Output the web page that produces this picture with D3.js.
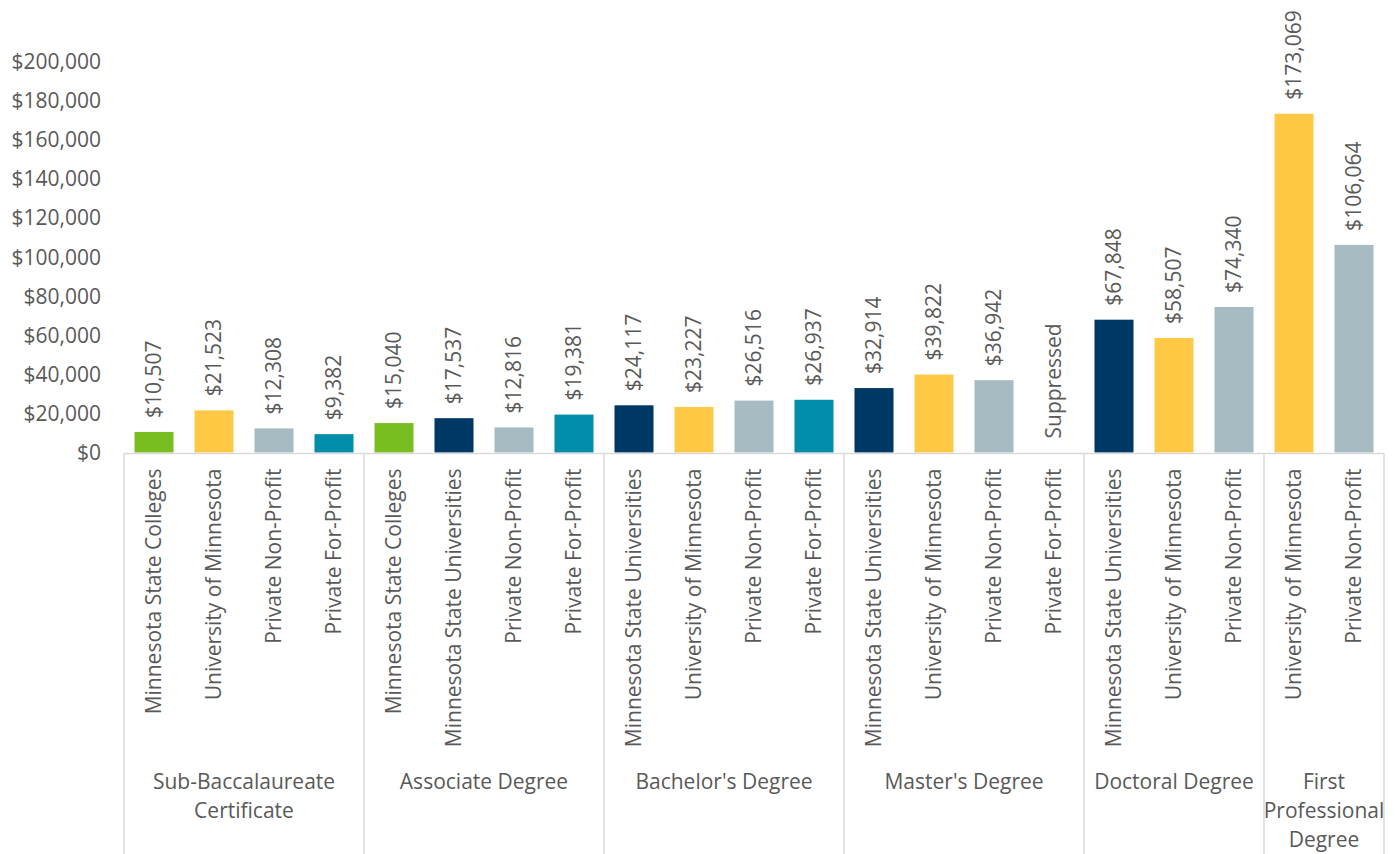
<!DOCTYPE html>
<html>
<head>
<meta charset="utf-8">
<script src="https://cdn.jsdelivr.net/npm/d3@7"></script>
<style>
  body { margin: 0; background: #fff; }
  svg text { font-family: "Open Sans", sans-serif; fill: #595959; }
</style>
</head>
<body>
<script>
const w = 1395;
const h = 854;
const margin = { top: 61, right: 11, bottom: 401, left: 124 };
const fontSize = '21px';

// data
const groupLabels = [
  ['Sub-Baccalaureate', 'Certificate'],
  ['Associate Degree'],
  ["Bachelor's Degree"],
  ["Master's Degree"],
  ['Doctoral Degree'],
  ['First', 'Professional', 'Degree']
];
const groupSectors = [
  ['Minnesota State Colleges', 'University of Minnesota', 'Private Non-Profit', 'Private For-Profit'],
  ['Minnesota State Colleges', 'Minnesota State Universities', 'Private Non-Profit', 'Private For-Profit'],
  ['Minnesota State Universities', 'University of Minnesota', 'Private Non-Profit', 'Private For-Profit'],
  ['Minnesota State Universities', 'University of Minnesota', 'Private Non-Profit', 'Private For-Profit'],
  ['Minnesota State Universities', 'University of Minnesota', 'Private Non-Profit'],
  ['University of Minnesota', 'Private Non-Profit']
];
const groupValues = [
  [10507, 21523, 12308, 9382],
  [15040, 17537, 12816, 19381],
  [24117, 23227, 26516, 26937],
  [32914, 39822, 36942, null],
  [67848, 58507, 74340],
  [173069, 106064]
];
const yTicks = [0, 20000, 40000, 60000, 80000, 100000, 120000, 140000, 160000, 180000, 200000];

const sectorColors = {
  'Minnesota State Colleges': '#78BE21',
  'Minnesota State Universities': '#003865',
  'University of Minnesota': '#FFC845',
  'Private Non-Profit': '#A6BBC2',
  'Private For-Profit': '#008EAA'
};

// flatten into bars
const bars = [];
groupSectors.forEach((sectors, g) => {
  sectors.forEach((s, i) => {
    bars.push({ id: g + '-' + i, group: g, sector: s, value: groupValues[g][i] });
  });
});

const svg = d3.select('body').append('svg')
  .attr('width', w)
  .attr('height', h);

const x = d3.scaleBand()
  .domain(bars.map((d) => d.id))
  .range([margin.left, w - margin.right])
  .paddingInner(0.35)
  .paddingOuter(0.175);
const step = x.step();

const y = d3.scaleLinear()
  .domain([0, 200000])
  .range([h - margin.bottom - 0.5, margin.top]);

// y axis labels only
const yAxis = svg.append('g')
  .attr('transform', `translate(${margin.left - 23}, 0)`)
  .call(d3.axisLeft(y).tickValues(yTicks).tickSize(0).tickPadding(0)
    .tickFormat((d) => '$' + d3.format(',')(d)));
yAxis.select('.domain').remove();
yAxis.selectAll('text')
  .attr('dy', '0.35em')
  .style('font-size', fontSize)
  .style('font-family', '"Open Sans", sans-serif')
  .attr('fill', '#595959');

// bars
svg.append('g')
  .selectAll('rect')
  .data(bars.filter((d) => d.value != null))
  .enter()
  .append('rect')
  .attr('x', (d) => x(d.id))
  .attr('y', (d) => y(d.value))
  .attr('width', x.bandwidth())
  .attr('height', (d) => y(0) - y(d.value))
  .attr('fill', (d) => sectorColors[d.sector]);

// value labels
svg.append('g')
  .selectAll('text')
  .data(bars)
  .enter()
  .append('text')
  .attr('transform', (d) => `translate(${x(d.id) + x.bandwidth() / 2}, ${y(d.value || 0) - 14}) rotate(-90)`)
  .attr('dy', '0.35em')
  .style('font-size', fontSize)
  .text((d) => d.value == null ? 'Suppressed' : '$' + d3.format(',')(d.value));

// category axis
const axisY = y(0) + 1;
const groupStart = [];
let acc = 0;
groupSectors.forEach((s) => { groupStart.push(acc); acc += s.length; });

svg.append('line')
  .attr('x1', margin.left)
  .attr('x2', w - margin.right)
  .attr('y1', axisY)
  .attr('y2', axisY)
  .attr('stroke', '#d9d9d9')
  .attr('stroke-width', 1.5);

const bounds = groupStart.concat([bars.length]);
svg.append('g')
  .selectAll('line')
  .data(bounds)
  .enter()
  .append('line')
  .attr('x1', (d) => margin.left + d * step)
  .attr('x2', (d) => margin.left + d * step)
  .attr('y1', axisY)
  .attr('y2', h)
  .attr('stroke', '#d9d9d9')
  .attr('stroke-width', 1.5);

// sector labels (rotated)
svg.append('g')
  .selectAll('text')
  .data(bars)
  .enter()
  .append('text')
  .attr('transform', (d) => `translate(${x(d.id) + x.bandwidth() / 2}, ${axisY + 15}) rotate(-90)`)
  .attr('text-anchor', 'end')
  .attr('dy', '0.35em')
  .style('font-size', fontSize)
  .text((d) => d.sector);

// group labels
const gl = svg.append('g')
  .selectAll('text')
  .data(groupLabels)
  .enter()
  .append('text')
  .attr('text-anchor', 'middle')
  .attr('x', (d, g) => margin.left + (groupStart[g] + groupSectors[g].length / 2) * step)
  .attr('y', 782)
  .style('font-size', fontSize);
gl.selectAll('tspan')
  .data((d) => d)
  .enter()
  .append('tspan')
  .attr('x', function () { return d3.select(this.parentNode).attr('x'); })
  .attr('dy', (d, i) => i === 0 ? '0.35em' : '1.38em')
  .text((d) => d);
</script>
</body>
</html>
